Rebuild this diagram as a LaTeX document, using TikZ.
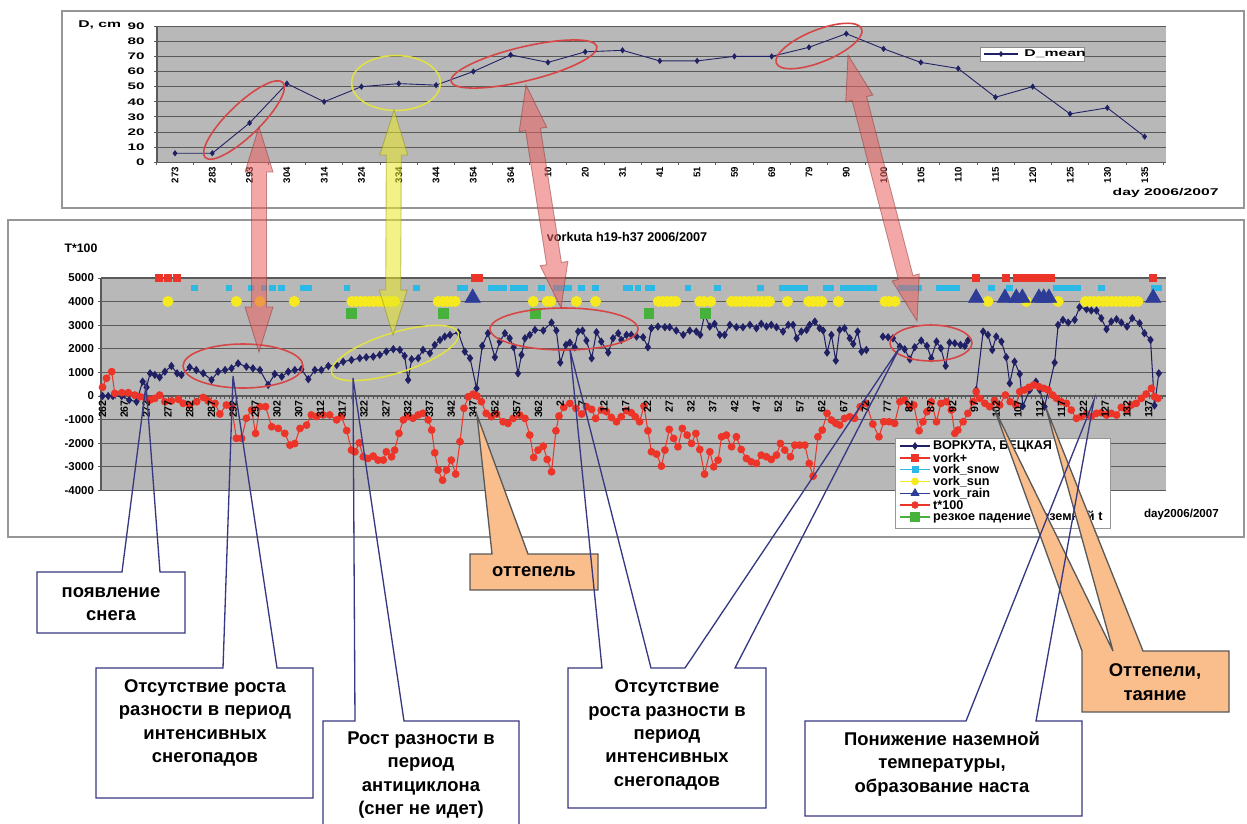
\documentclass[tikz,border=0pt]{standalone}
\usepackage{fontspec}
\setmainfont{Liberation Sans}
\usetikzlibrary{calc,shapes.geometric,plotmarks}
\definecolor{plotgray}{RGB}{184,184,184}
\definecolor{gridgray}{RGB}{90,90,90}
\definecolor{framegray}{RGB}{150,150,150}
\definecolor{navyline}{RGB}{32,32,100}
\definecolor{tred}{RGB}{236,52,40}
\definecolor{snowcyan}{RGB}{45,185,230}
\definecolor{sunyellow}{RGB}{246,234,30}
\definecolor{raindark}{RGB}{45,60,150}
\definecolor{dropgreen}{RGB}{70,178,60}
\definecolor{calloutblue}{RGB}{55,55,130}
\definecolor{thaworange}{RGB}{250,190,140}
\definecolor{arrowpink}{RGB}{235,95,95}
\definecolor{arrowyellow}{RGB}{232,232,40}
\definecolor{ringred}{RGB}{215,70,70}
\definecolor{ringyellow}{RGB}{225,225,70}
\tikzset{chartframe/.style={draw=framegray, line width=0.8pt, fill=white}}
\tikzset{gridline/.style={draw=gridgray, line width=0.6pt}}
\tikzset{topnum/.style={font=\fontsize{5.4}{6}\selectfont\bfseries, inner sep=1pt, xscale=1.6}}
\tikzset{toplabel/.style={font=\fontsize{5.5}{5.5}\selectfont\bfseries, rotate=90, anchor=east, inner sep=0.5pt}}
\tikzset{chartnum/.style={font=\fontsize{6.5}{7}\selectfont\bfseries, inner sep=1pt}}
\tikzset{daylabel/.style={font=\fontsize{6}{6}\selectfont\bfseries, rotate=90, anchor=east, inner sep=0.5pt}}
\tikzset{legtext/.style={font=\fontsize{7.2}{8}\selectfont\bfseries, inner sep=0.5pt, anchor=west}}
\tikzset{ring/.style={ellipse, draw=ringred, line width=0.9pt, inner sep=0pt}}
\tikzset{callout/.style={draw=calloutblue, line width=0.75pt}}
\tikzset{thaw/.style={draw=black!65, line width=0.75pt, fill=thaworange}}
\tikzset{calltext/.style={font=\fontsize{10.5}{13.3}\selectfont\bfseries, align=center, inner sep=0pt}}
\tikzset{pinkarrow/.style={fill=arrowpink, fill opacity=0.55, draw=arrowpink!60!black, draw opacity=0.5, line width=0.5pt}}
\tikzset{yellowarrow/.style={fill=arrowyellow, fill opacity=0.55, draw=arrowyellow!60!black, draw opacity=0.5, line width=0.5pt}}
\newcommand{\dblarrow}[3]{%
  \draw[#1] (#2)
    -- ($(#2)!0.9cm!(#3)!0.28cm!90:(#3)$)
    -- ($(#2)!0.9cm!(#3)!0.15cm!90:(#3)$)
    -- ($(#3)!0.9cm!(#2)!0.15cm!-90:(#2)$)
    -- ($(#3)!0.9cm!(#2)!0.28cm!-90:(#2)$)
    -- (#3)
    -- ($(#3)!0.9cm!(#2)!0.28cm!90:(#2)$)
    -- ($(#3)!0.9cm!(#2)!0.15cm!90:(#2)$)
    -- ($(#2)!0.9cm!(#3)!0.15cm!-90:(#3)$)
    -- ($(#2)!0.9cm!(#3)!0.28cm!-90:(#3)$)
    -- cycle;}

\begin{document}
\begin{tikzpicture}[x=0.02cm, y=-0.02cm]
    \useasboundingbox (0,0) rectangle (1247,823);
    \clip (0,0) rectangle (1247,823);
    \fill[white] (0,0) rectangle (1247,823);

    \draw[chartframe] (62,11) rectangle (1244,208);
    \fill[plotgray] (157,26) rectangle (1166,162.3);
    \foreach \v in {10,20,...,90} {
            \draw[gridline] (157,{162.3-1.514*\v}) -- (1166,{162.3-1.514*\v});
        }
    \draw[gridgray, line width=0.6pt] (157,26) -- (157,162.3) -- (1166,162.3);
    \foreach \v in {0,10,...,90} {
            \draw[gridgray, line width=0.5pt] (154,{162.3-1.514*\v}) -- (157,{162.3-1.514*\v});
            \node[topnum, anchor=east] (dval\v) at (148,{162.3-1.514*\v}) {\v};
        }
    \foreach \i in {0,...,27} {
            \draw[gridgray, line width=0.5pt] ({156.35+37.3*\i},162.3) -- ++(0,3);
        }
    \foreach \lab [count=\i from 0] in {273,283,293,304,314,324,334,344,354,364,10,20,31,41,51,59,69,79,90,100,105,110,115,120,125,130,135} {
            \node[toplabel] (dday\i) at ({175+37.3*\i},166) {\lab};
        }
    \node[topnum, anchor=west] (dunit) at (75,25) {\fontsize{5.6}{6}\selectfont D, cm};
    \node[topnum, anchor=east] (dday) at (1222,193) {\fontsize{5.6}{6}\selectfont day 2006/2007};

    \begin{scope}[shift={(175,162.3)}, x=0.746cm, y=0.03028cm]
        \draw[navyline, line width=0.5pt] plot[mark=diamond*, mark size=1.4pt] coordinates {
                (0,6) (1,6) (2,26) (3,52) (4,40) (5,50) (6,52) (7,51) (8,60) (9,71) (10,66) (11,73) (12,74) (13,67)
                (14,67) (15,70) (16,70) (17,76) (18,85) (19,75) (20,66) (21,62) (22,43) (23,50) (24,32) (25,36) (26,17)};
    \end{scope}

    \draw[fill=white, draw=gridgray!70, line width=0.5pt] (980,47) rectangle (1084,61);
    \draw[navyline, line width=0.6pt] (984,54) -- (1018,54);
    \draw[navyline] plot[mark=diamond*, mark size=1.4pt] coordinates {(1001,54)};
    \node[topnum, anchor=west] (dmean) at (1021,54) {\fontsize{5.6}{6}\selectfont D\_mean};

    \draw[chartframe] (8,220) rectangle (1244,537);
    \node[font=\fontsize{7.2}{8}\selectfont\bfseries] (title) at (627,237) {vorkuta h19-h37 2006/2007};
    \node[font=\fontsize{7}{8}\selectfont\bfseries] (tunit) at (81,248) {T*100};
    \fill[plotgray] (101,278) rectangle (1166,490.4);
    \foreach \v [count=\i] in {-4000,-3000,...,5000} {
            \draw[gridline] (101,{396-0.0236*\v}) -- (1166,{396-0.0236*\v});
            \draw[gridgray, line width=0.5pt] (98,{396-0.0236*\v}) -- (101,{396-0.0236*\v});
            \node[chartnum, anchor=east] (tval\i) at (96,{396-0.0236*\v}) {\v};
        }
    \draw[gridgray, line width=0.6pt] (101,278) -- (101,490.4);

    \begin{scope}[shift={(-1039.6,396)}, x=0.0872cm, y=0.000472cm]
        \foreach \d in {262,...,505} {
                \draw[gridgray, line width=0.3pt] (\d,0) -- (\d,-110);
            }
        \draw[navyline, line width=0.6pt] plot[mark=diamond*, mark size=1.9pt] coordinates {
                (262,0) (263.3,0) (264.4,0) (266.4,0) (268.1,-170) (269.8,-240) (271.2,610) (272.1,370) (272.9,960) (274,890)
                (275.1,790) (276.3,1030) (277.8,1270) (279.1,960) (280.1,890) (282,1215) (283.5,1100) (285.1,960) (287,680)
                (288.5,1030) (290.1,1100) (291.6,1170) (293.1,1380) (295,1240) (296.5,1170) (298.1,1100) (300,470) (301.5,930)
                (303.1,820) (304.6,1030) (306.1,1100) (307.6,1130) (309.2,710) (310.7,1100) (312.2,1100) (313.8,1270)
                (315.7,1310) (317.2,1450) (319.1,1525) (321,1600) (322.5,1640) (324.1,1665) (325.6,1740) (327.1,1880)
                (328.7,1980) (330.2,1950) (331.3,1695) (332.1,680) (332.9,1555) (334.4,1600) (335.5,1950) (337.1,1810)
                (338.2,2160) (339.4,2370) (340.5,2515) (341.7,2585) (343.6,2685) (345.1,1880) (346.3,1600) (347.8,325)
                (349.1,2120) (350.4,2655) (352,1640) (353.1,2300) (354.3,2655) (355.4,2443) (356.3,2062) (357.3,960)
                (358.1,1737) (358.9,2443) (360,2585) (361.2,2796) (363.1,2768) (365,3107) (366.1,2768) (367,1412) (368.3,2161)
                (369.2,2260) (370.3,2062) (371.1,2726) (372.1,2768) (373,2345) (374.2,1596) (375.3,2698) (376.4,2302)
                (378,1836) (379.1,2443) (380.3,2655) (381,2373) (382.2,2585) (383.3,2585) (384.5,2514) (386,2486) (387.1,2062)
                (387.9,2867) (389.4,2937) (391,2909) (392.1,2909) (393.6,2768) (395.2,2585) (396.7,2768) (398.2,2726)
                (399.1,2585) (400.1,3432) (401.3,2937) (402.4,3051) (403.6,2585) (404.7,2585) (405.9,3008) (407.4,2909)
                (408.9,2909) (410.5,3008) (412,2867) (413.1,3051) (414.3,2937) (415.4,3008) (416.6,2909) (418.1,2726)
                (419.3,3008) (420.4,3008) (421.2,2443) (422.3,2726) (423.5,2796) (424.2,3008) (425.4,3149) (426.5,2867)
                (427.3,2768) (428.2,1836) (429.2,2585) (430.2,1497) (431.1,2796) (432.2,2867) (433.4,2443) (434.2,2203)
                (435.2,2726) (436.1,1878) (437.2,1949)};
        \draw[navyline, line width=0.6pt] plot[mark=diamond*, mark size=1.9pt] coordinates {
                (441,2514) (442.2,2486) (443.3,2443) (444.9,2090) (446,1977) (447.2,1553) (448.3,2062) (449.8,2345)
                (451.1,2119) (452.1,1596) (453.3,2302) (454.3,2020) (455.4,1271) (456.3,2260) (457.5,2231) (458.8,2161)
                (459.8,2119) (460.5,2345)};
        \draw[navyline, line width=0.6pt] plot[mark=diamond*, mark size=1.9pt] coordinates {
                (462.4,254) (464,2726) (465.1,2585) (466.1,1949) (467,2514) (468.2,2302) (469.3,1640) (470.1,537)
                (471.2,1455) (472.4,932) (473.1,-424) (474.7,254) (476.1,607) (477,254) (478.1,-452) (480.4,1412)
                (481.2,3008) (482.3,3220) (483.5,3107) (485,3220) (486.1,3757) (487.7,3672) (488.8,3616) (490,3616)
                (491.1,3290) (492.3,2825) (493.4,3149) (494.6,3249) (495.7,3107) (497,2937) (498.2,3290) (499.9,3079)
                (501,2655) (502.4,2373) (503.3,-400) (504.3,960)};
        \draw[tred] plot[only marks, mark=square*, mark size=2pt] coordinates {
                (275,5000) (277,5000) (279,5000) (347.3,5000) (348.3,5000) (462.4,5000) (469.1,5000) (471.7,5000)
                (472.7,5000) (473.7,5000) (474.7,5000) (475.7,5000) (476.7,5000) (477.7,5000) (478.7,5000) (479.5,5000)
                (503,5000)};
        \draw[snowcyan] plot[only marks, mark=square*, mark size=1.6pt] coordinates {
                (283,4576) (291,4576) (296,4576) (299,4576) (301,4576) (303,4576) (308,4576) (309.2,4576) (318,4576)
                (334,4576) (344,4576) (345.1,4576) (351.2,4576) (352.2,4576) (353.2,4576) (354,4576) (356.1,4576)
                (357.1,4576) (358.1,4576) (358.9,4576) (362.7,4576) (366,4576) (367,4576) (368,4576) (368.9,4576)
                (371.9,4576) (375.1,4576) (382.1,4576) (383,4576) (384.8,4576) (387.1,4576) (388,4576) (396.3,4576)
                (403,4576) (412.9,4576) (418,4576) (419,4576) (420,4576) (421,4576) (422,4576) (423.1,4576) (428,4576)
                (429,4576) (431.8,4576) (432.8,4576) (433.8,4576) (434.8,4576) (435.8,4576) (436.8,4576) (437.8,4576)
                (438.8,4576) (445.2,4576) (446.2,4576) (447.2,4576) (448.2,4576) (449.2,4576) (454,4576) (455,4576)
                (456,4576) (457,4576) (457.9,4576) (465.9,4576) (470,4576) (480.7,4576) (481.7,4576) (482.7,4576)
                (483.7,4576) (484.7,4576) (485.7,4576) (491.1,4576) (503.3,4576) (504.2,4576)};
        \draw[sunyellow] plot[only marks, mark=*, mark size=2.9pt] coordinates {
                (277,4000) (292.7,4000) (298.1,4000) (306,4000) (319.2,4000) (320.2,4000) (321.2,4000) (322.2,4000)
                (323.2,4000) (324.2,4000) (325.2,4000) (326.2,4000) (327.2,4000) (328.2,4000) (329,4000) (339,4000)
                (340,4000) (341,4000) (342,4000) (342.9,4000) (360.8,4000) (364,4000) (364.8,4000) (370.7,4000)
                (375.1,4000) (389.5,4000) (390.5,4000) (391.5,4000) (392.5,4000) (393.5,4000) (399,4000) (400,4000)
                (401.5,4000) (406.3,4000) (407.3,4000) (408.3,4000) (409.3,4000) (410.3,4000) (411.3,4000) (412.3,4000)
                (413.3,4000) (414.3,4000) (415,4000) (419.1,4000) (424,4000) (425,4000) (426,4000) (427,4000)
                (430.8,4000) (441.5,4000) (442.5,4000) (443.8,4000) (465.1,4000) (473.9,4000) (481.2,4000) (487.5,4000)
                (488.5,4000) (489.5,4000) (490.5,4000) (491.5,4000) (492.5,4000) (493.5,4000) (494.5,4000) (495.5,4000)
                (496.5,4000) (497.5,4000) (498.5,4000) (499.5,4000)};
        \draw[raindark] plot[only marks, mark=triangle*, mark size=5pt] coordinates {
                (346.9,4150) (462.4,4150) (469,4150) (471.6,4150) (473,4150) (476.8,4150) (477.9,4150) (479.1,4150)
                (503,4150)};
        \draw[tred, line width=0.6pt] plot[mark=*, mark size=1.9pt] coordinates {
                (262,370) (262.9,750) (264.1,1030) (264.8,110) (266.4,140) (267.9,140) (269.4,40) (270.6,-30) (271.7,-60)
                (272.9,-170) (274,-100) (275.1,40) (276.3,-240) (277.8,-210) (279.4,-140) (280.5,-310) (282,-380)
                (283.6,-240) (285.1,-60) (286.2,-200) (287.8,-310) (288.9,-760) (290.4,-380) (291.6,-450) (292.7,-1790)
                (293.9,-1790) (295,-940) (296.2,-590) (297.1,-1580) (298.1,-450) (299.4,-450) (300.8,-1300) (302.3,-1370)
                (303.8,-1580) (305,-2080) (306.1,-2010) (307.3,-1370) (308.8,-1230) (309.9,-800) (311.1,-870) (312.6,-800)
                (314.1,-800) (315.7,-1010) (316.8,-870) (318,-1460) (319.1,-2290) (319.9,-2360) (320.9,-1980)
                (321.8,-2570) (322.9,-2640) (324.1,-2540) (325.2,-2710) (326.4,-2710) (327.1,-2360) (328.3,-2570)
                (329,-2290) (330,-1580) (331,-1010) (332.1,-870) (333.2,-940) (334.4,-800) (335.5,-730) (336.7,-1010)
                (337.5,-1440) (338.2,-2400) (339,-3130) (340,-3560) (340.9,-3130) (342,-2710) (343,-3300) (344,-1930)
                (344.9,-520) (345.9,-30) (347,80) (347.9,0) (348.9,-240) (350,-734) (351.2,-875) (352.4,-762)
                (353.9,-1088) (355,-1158) (356.2,-946) (357.7,-805) (358.9,-946) (360,-1652) (360.9,-2599) (361.9,-2288)
                (363.1,-2118) (364,-2683) (365,-3206) (366,-1469) (366.7,-847) (367.8,-480) (369.2,-311) (370.6,-522)
                (371.9,-762) (373,-452) (374.2,-565) (375.1,-946) (376.4,-593) (377.6,-664) (378.7,-904) (379.9,-1088)
                (381,-875) (382.2,-621) (383.3,-706) (384.2,-875) (385.2,-1088) (386.2,-423) (387.1,-1469) (387.9,-2358)
                (389.1,-2457) (390.2,-2966) (391,-2288) (392,-1412) (393,-1794) (394,-2147) (395,-1370) (396.1,-1652)
                (397.1,-2006) (398.1,-1582) (399,-2260) (400.1,-3305) (401.3,-2358) (402.2,-2994) (403.2,-2712)
                (404,-1723) (405.1,-1652) (406.3,-2147) (407.4,-1723) (408.5,-2260) (409.7,-2641) (410.8,-2783)
                (412,-2853) (413.1,-2500) (414.3,-2571) (415.4,-2683) (416.6,-2500) (417.5,-2006) (418.5,-2288)
                (419.8,-2571) (420.8,-2077) (421.9,-2077) (423.1,-2077) (424.1,-2853) (425,-3390) (426.1,-1723)
                (427.1,-1440) (428.2,-734) (429.2,-1017) (430.2,-1158) (431.1,-1229) (432.2,-946) (433.4,-875)
                (434.5,-946) (435.8,-452) (437.2,-311) (438.7,-1186) (440.1,-1723) (441.2,-1088) (442.4,-1088)
                (443.7,-1158) (444.9,-240) (446,-170) (447.2,-452) (448.1,-381) (449.3,-1469) (450.2,-1088) (451.1,-664)
                (452.1,-240) (453.3,-1088) (454.3,-311) (455.6,-240) (456.7,-593) (457.5,-1582) (458.2,-1440)
                (459.4,-1088) (460.5,-734) (461.7,-240) (462.4,185) (463.2,-99) (464.4,-311) (465.5,-452) (466.6,-184)
                (467.8,-381) (469.1,42) (470.2,-240) (471.5,-381) (472.4,185) (473.5,254) (474.5,367) (475.6,466)
                (476.8,395) (477.9,325) (478.9,254) (479.9,42) (480.8,-99) (481.9,-240) (483.1,-311) (484.2,-593)
                (485.4,-946) (486.5,-875) (487.7,-762) (488.8,-875) (490,-734) (491.1,-706) (492.3,-805) (493.4,-734)
                (494.6,-805) (495.7,-480) (496.9,-593) (498,-381) (499.1,-311) (500.3,-99) (501.4,85) (502.6,325)
                (503.3,-28) (504.1,-99)};
        \draw[dropgreen] plot[only marks, mark=square*, mark size=2.8pt] coordinates {
                (319.1,3500) (340.1,3500) (361.3,3500) (387.3,3500) (400.2,3500)};
        \foreach \d in {262,267,...,502} {
                \pgfmathtruncatemacro{\lab}{ifthenelse(\d>365,\d-365,\d)}
                \node[daylabel] (day\d) at (\d,-130) {\lab};
            }
    \end{scope}

    \draw[fill=white, draw=framegray, line width=0.5pt] (895,438) rectangle (1110,528);
    \foreach \k/\col/\mk/\ms/\txt in {0/navyline/diamond*/1.9pt/{ВОРКУТА, БЕЦКАЯ},1/tred/square*/1.9pt/vork+,
            2/snowcyan/square*/1.7pt/vork\_snow,3/sunyellow/*/2pt/vork\_sun,4/raindark/triangle*/2.6pt/vork\_rain,
            5/tred/*/1.9pt/t*100,6/dropgreen/square*/2.6pt/{резкое падение наземной t}} {
            \pgfmathsetmacro{\ly}{446+11.8*\k}
            \draw[\col, line width=0.8pt] (900,\ly) -- (930,\ly);
            \draw[\col] plot[mark=\mk, mark size=\ms] coordinates {(915,\ly)};
            \node[legtext] (leg\k) at (932,\ly) {\txt};
        }
    \node[font=\fontsize{6.6}{7}\selectfont\bfseries, anchor=east] (tday) at (1225,514) {day2006/2007};

    \node[ring, minimum width=2.16cm, minimum height=0.64cm, rotate=44] (ringA) at (244,120) {};
    \node[ring, draw=ringyellow, minimum width=1.78cm, minimum height=1.1cm] (ringB) at (396,83) {};
    \node[ring, minimum width=3cm, minimum height=0.68cm, rotate=13.5] (ringC) at (524,64) {};
    \node[ring, minimum width=1.84cm, minimum height=0.64cm, rotate=22] (ringD) at (819,46) {};
    \node[ring, minimum width=2.4cm, minimum height=0.88cm] (ringE) at (243,366) {};
    \node[ring, draw=ringyellow, minimum width=2.66cm, minimum height=0.8cm, rotate=17.5] (ringF) at (395,353) {};
    \node[ring, minimum width=2.96cm, minimum height=0.84cm] (ringG) at (564,329) {};
    \node[ring, minimum width=1.64cm, minimum height=0.72cm] (ringH) at (931,343) {};

    \coordinate (arrAtop) at (259,127);
    \coordinate (arrAbot) at (259,352);
    \coordinate (arrBtop) at (394,110);
    \coordinate (arrBbot) at (393,335);
    \coordinate (arrCtop) at (526,85);
    \coordinate (arrCbot) at (561,308);
    \coordinate (arrDtop) at (848,55);
    \coordinate (arrDbot) at (917,321);
    \dblarrow{pinkarrow}{arrAtop}{arrAbot}
    \dblarrow{yellowarrow}{arrBtop}{arrBbot}
    \dblarrow{pinkarrow}{arrCtop}{arrCbot}
    \dblarrow{pinkarrow}{arrDtop}{arrDbot}

    \coordinate (tipthaw) at (477,415);
    \coordinate (tipmeltA) at (994,408);
    \coordinate (tipmeltB) at (1046,408);
    \draw[thaw] (492,554) -- (tipthaw) -- (528,554) -- (598,554) -- (598,590) -- (470,590) -- (470,554) -- cycle;
    \draw[thaw] (1082,651) -- (tipmeltA) -- (1113,651) -- (tipmeltB) -- (1143,651) -- (1229,651) -- (1229,712)
    -- (1082,712) -- cycle;

    \coordinate (tipsnow) at (146,385);
    \coordinate (tipfallA) at (233,376);
    \coordinate (tipanti) at (353,378);
    \coordinate (tipfallB) at (570,350);
    \coordinate (tipfallC) at (900,347);
    \coordinate (tipcrust) at (1094,400);
    \draw[callout] (122,572) -- (tipsnow) -- (160,572) -- (185,572) -- (185,633) -- (37,633) -- (37,572) -- cycle;
    \draw[callout] (223,668) -- (tipfallA) -- (277,668) -- (313,668) -- (313,798) -- (96,798) -- (96,668) -- cycle;
    \draw[callout] (355,721) -- (tipanti) -- (404,721) -- (519,721) -- (519,840) -- (323,840) -- (323,721) -- cycle;
    \draw[callout] (602,668) -- (tipfallB) -- (651,668) -- (685,668) -- (tipfallC) -- (735,668) -- (766,668)
    -- (766,808) -- (568,808) -- (568,668) -- cycle;
    \draw[callout] (966,721) -- (tipcrust) -- (1036,721) -- (1082,721) -- (1082,816) -- (805,816) -- (805,721) -- cycle;

    \node[calltext] (snowstart) at (111,604) {появление\\снега};
    \node[calltext] (nogrowthA) at (205,723) {Отсутствие роста\\разности в период\\интенсивных\\снегопадов};
    \node[calltext] (anticyclone) at (421,775) {Рост разности в\\период\\антициклона\\(снег не идет)};
    \node[calltext] (thaw) at (534,572) {оттепель};
    \node[calltext] (nogrowthB) at (667,735) {Отсутствие\\роста разности в\\период\\интенсивных\\снегопадов};
    \node[calltext] (crust) at (942,764) {Понижение наземной\\температуры,\\образование наста};
    \node[calltext] (melt) at (1155,682) {Оттепели,\\таяние};

\end{tikzpicture}
\end{document}
